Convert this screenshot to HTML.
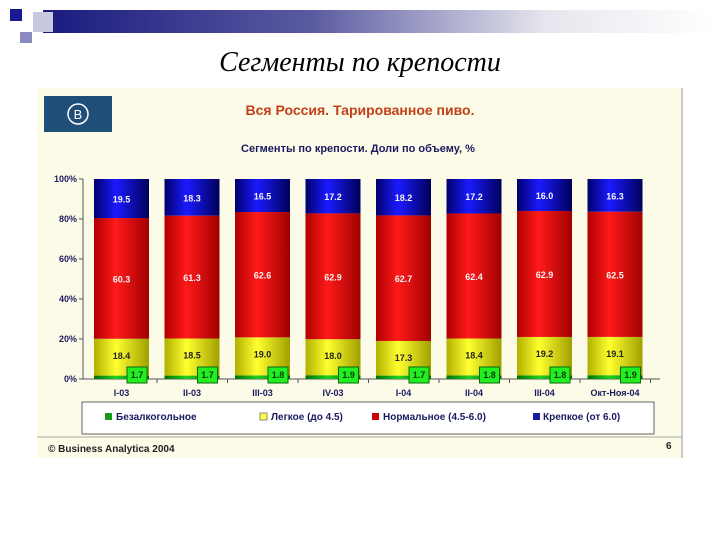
<!DOCTYPE html>
<html><head><meta charset="utf-8"><style>
body{margin:0;width:720px;height:540px;background:#fff;overflow:hidden;position:relative;font-family:"Liberation Sans",sans-serif}
</style></head><body>
<div style="position:absolute;left:43px;top:10px;width:670px;height:23px;background:linear-gradient(90deg,#1a1a80 0%,#5a5aa0 40%,#e6e6ee 75%,#fff 100%)"></div>
<div style="position:absolute;left:10px;top:9px;width:12px;height:12px;background:#1a1a90"></div>
<div style="position:absolute;left:33px;top:12px;width:20px;height:20px;background:#c8c8e0"></div>
<div style="position:absolute;left:20px;top:32px;width:12px;height:11px;background:#8a8ac0"></div>
<div style="position:absolute;left:0;width:720px;top:47px;text-align:center;font-family:'Liberation Serif',serif;font-style:italic;font-size:28px">Сегменты по крепости</div>
<svg width="720" height="540" style="position:absolute;left:0;top:0" xmlns="http://www.w3.org/2000/svg">
<defs>
<linearGradient id="gb" x1="0" x2="1"><stop offset="0" stop-color="#00006a"/><stop offset="0.4" stop-color="#1a1aff"/><stop offset="1" stop-color="#00005a"/></linearGradient>
<linearGradient id="gr" x1="0" x2="1"><stop offset="0" stop-color="#b00000"/><stop offset="0.4" stop-color="#ff1a1a"/><stop offset="1" stop-color="#a00000"/></linearGradient>
<linearGradient id="gy" x1="0" x2="1"><stop offset="0" stop-color="#b0b000"/><stop offset="0.4" stop-color="#ffff30"/><stop offset="1" stop-color="#a0a000"/></linearGradient>
<linearGradient id="gg" x1="0" x2="1"><stop offset="0" stop-color="#007000"/><stop offset="0.4" stop-color="#20d020"/><stop offset="1" stop-color="#006000"/></linearGradient>
</defs>
<rect x="37" y="88" width="645" height="370" fill="#fcfbe8"/>
<line x1="682" y1="88" x2="682" y2="458" stroke="#999"/>
<line x1="37" y1="437" x2="682" y2="437" stroke="#aaa"/>
<rect x="44" y="96" width="68" height="36" fill="#1f4e79"/>
<circle cx="78" cy="114" r="10" fill="none" stroke="#fff" stroke-width="1.5"/>
<text x="78" y="119" fill="#fff" font-size="13" text-anchor="middle">B</text>
<text x="360" y="115" text-anchor="middle" fill="#c0401a" font-weight="bold" font-size="14">Вся Россия. Тарированное пиво.</text>
<text x="358" y="152" text-anchor="middle" fill="#1a1a60" font-weight="bold" font-size="11">Сегменты по крепости. Доли по объему, %</text>
<g id="axes"></g><g id="bars"></g>
<rect x="82" y="402" width="572" height="32" fill="#fff" stroke="#666"/>
<g font-size="10" font-weight="bold" fill="#1a1a60">
<rect x="105" y="413" width="7" height="7" fill="#1a9a1a"/><text x="116" y="420">Безалкогольное</text>
<rect x="260" y="413" width="7" height="7" fill="#ffff40" stroke="#888"/><text x="271" y="420">Легкое (до 4.5)</text>
<rect x="372" y="413" width="7" height="7" fill="#c00"/><text x="383" y="420">Нормальное (4.5-6.0)</text>
<rect x="533" y="413" width="7" height="7" fill="#1a1aa0"/><text x="543" y="420">Крепкое (от 6.0)</text>
</g>
<text x="48" y="452" font-size="10" font-weight="bold" fill="#222">© Business Analytica 2004</text>
<text x="666" y="449" font-size="10" font-weight="bold" fill="#222">6</text>
</svg>
<script>
const categories=["I-03","II-03","III-03","IV-03","I-04","II-04","III-04","Окт-Ноя-04"];
const green=[1.7,1.7,1.8,1.9,1.7,1.8,1.8,1.9];
const yellow=[18.4,18.5,19.0,18.0,17.3,18.4,19.2,19.1];
const red=[60.3,61.3,62.6,62.9,62.7,62.4,62.9,62.5];
const blue=[19.5,18.3,16.5,17.2,18.2,17.2,16.0,16.3];
const yTicks=[0,20,40,60,80,100];
const NS="http://www.w3.org/2000/svg";
const y=p=>379-p*2;
const x=i=>94+i*70.5;
const bw=55;
function mk(t,a,parent){const e=document.createElementNS(NS,t);for(const k in a)e.setAttribute(k,a[k]);parent.appendChild(e);return e;}
const ax=document.getElementById('axes'),bg=document.getElementById('bars');
const yl=mk('line',{x1:83,y1:179,x2:83,y2:379,stroke:'#555'},ax);


const xl=mk('line',{x1:83,y1:379,x2:660,y2:379,stroke:'#555'},ax);


yTicks.forEach(t=>{
 mk('line',{x1:79,y1:y(t),x2:83,y2:y(t),stroke:'#555'},ax);
 const tx=mk('text',{x:77,y:y(t)+3,'text-anchor':'end','font-size':9,'font-weight':'bold',fill:'#1a1a60'},ax);
 tx.textContent=t+'%';
 
 
});
categories.forEach((c,i)=>{
 const tot=green[i]+yellow[i]+red[i]+blue[i];
 const segs=[[green[i],'url(#gg)','green'],[yellow[i],'url(#gy)','yellow'],[red[i],'url(#gr)','red'],[blue[i],'url(#gb)','blue']];
 let acc=0;
 segs.forEach(([v,f,n])=>{
  const p=v/tot*100;
  const r=mk('rect',{x:x(i),y:y(acc+p),width:bw,height:p*2,fill:f},bg);
  
  
  if(n!=='green'){
   const ty=n==='yellow'?y(acc+p)+20:y(acc+p/2)+4;
   const t=mk('text',{x:x(i)+bw/2,y:ty,'text-anchor':'middle','font-size':9,'font-weight':'bold',fill:n==='yellow'?'#222':'#f4f4f4'},bg);
   t.textContent=v.toFixed(1);
   
   
  }
  acc+=p;
 });
 const gb=mk('rect',{x:x(i)+bw-22,y:367,width:20,height:16,fill:'#22ee22',stroke:'#0a6a0a'},bg);
 
 
 const gt=mk('text',{x:x(i)+bw-12,y:378,'text-anchor':'middle','font-size':9,'font-weight':'bold',fill:'#0a3a0a'},bg);
 gt.textContent=green[i].toFixed(1);
 
 
 mk('line',{x1:x(i)+bw+8,y1:379,x2:x(i)+bw+8,y2:383,stroke:'#555'},ax);
 const ct=mk('text',{x:x(i)+bw/2,y:396,'text-anchor':'middle','font-size':9,'font-weight':'bold',fill:'#1a1a60'},ax);
 ct.textContent=c;
 
 
});
</script>
</body></html>
